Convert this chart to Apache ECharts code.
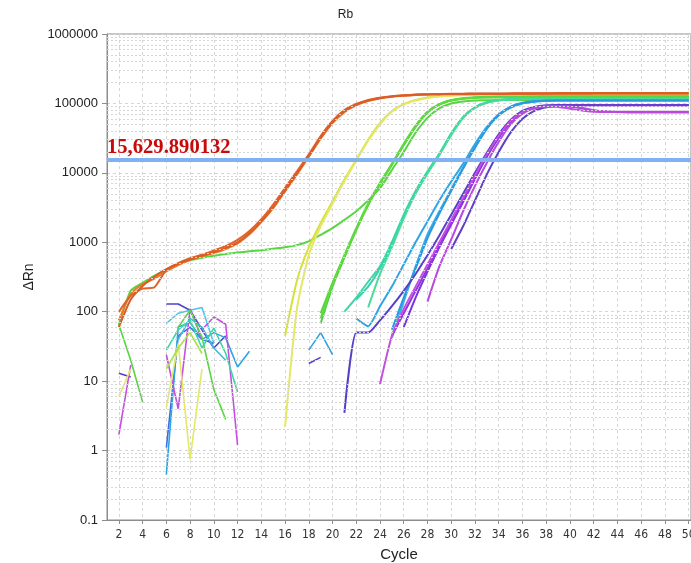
<!DOCTYPE html>
<html>
<head>
<meta charset="utf-8">
<title>Rb amplification plot</title>
<script src="https://cdn.jsdelivr.net/npm/echarts@6/dist/echarts.min.js"></script>
<style>
  html, body { margin: 0; padding: 0; background: #ffffff; }
  #chart { width: 691px; height: 563px; }
</style>
</head>
<body>
<div id="chart"></div>
<script>
// ---- axis ticks ----
const X_TICKS = [2, 4, 6, 8, 10, 12, 14, 16, 18, 20, 22, 24, 26, 28, 30, 32, 34, 36, 38, 40, 42, 44, 46, 48, 50];
const Y_TICKS = [0.1, 1, 10, 100, 1000, 10000, 100000, 1000000];
const Y_MINOR = [2, 3, 4, 5, 6, 7, 8, 9];   // log sub-divisions inside each decade
const THRESHOLD = 15629.890132;

// ---- amplification curves: first cycle, then ΔRn per cycle up to cycle 50 ----
const orange1 = [2, [60, 150, 235, 320, 410, 490, 570, 640, 720,
  830, 1000, 1350, 2000, 3200, 5600, 9800, 17500, 32000, 54000,
  77000, 96000, 110000, 120000, 126000, 130000, 133000, 135000, 136000, 137000,
  137000, 138000, 138000, 138000, 138000, 139000, 139000, 139000, 139000, 139000,
  139000, 140000, 140000, 140000, 140000, 140000, 140000, 140000, 140000, 140000]];
const orange2 = [2, [100, 170, 215, 225, 400, 500, 590, 660, 760,
  880, 1080, 1450, 2150, 3500, 6100, 10500, 18500, 34000, 56000,
  80000, 98000, 112000, 121000, 127000, 131000, 134000, 136000, 137000, 138000,
  138000, 139000, 139000, 139000, 140000, 140000, 140000, 140000, 141000, 141000,
  141000, 141000, 141000, 141000, 141000, 141000, 141000, 141000, 141000, 141000]];
const orange3 = [2, [75, 180, 250, 300, 380, 470, 560, 630, 700,
  800, 960, 1300, 1950, 3100, 5400, 9400, 17000, 31000, 52000,
  75000, 94000, 108000, 118000, 125000, 129000, 132000, 134000, 135000, 136000,
  136000, 136000, 137000, 137000, 137000, 137000, 137000, 138000, 138000, 138000,
  138000, 138000, 138000, 138000, 138000, 138000, 138000, 138000, 138000, 138000]];
const greenSlow = [2, [65, 200, 260, 330, 400, 480, 550, 600, 640,
  680, 710, 740, 770, 810, 850, 910, 1030, 1280, 1600,
  2100, 2800, 4000, 6000, 11000, 20000, 38000, 62000, 85000, 100000,
  107000, 110000, 111000, 112000, 112000, 112000, 113000, 113000, 113000, 113000,
  113000, 113000, 113000, 113000, 113000, 113000, 113000, 113000, 113000, 113000]];
const yellow1 = [16, [45, 280, 850, 1900, 3900,
  8000, 15500, 30000, 52000, 78000, 98000, 112000, 122000, 128000, 131000,
  133000, 134000, 134000, 135000, 135000, 135000, 135000, 135000, 136000, 136000,
  136000, 136000, 136000, 136000, 136000, 136000, 136000, 136000, 136000, 136000]];
const yellow2 = [16, [2.2, 110, 650, 1700, 3600,
  7600, 15000, 29000, 50000, 76000, 96000, 110000, 120000, 126000, 129000,
  131000, 132000, 133000, 133000, 133000, 134000, 134000, 134000, 134000, 134000,
  134000, 134000, 134000, 134000, 134000, 134000, 134000, 134000, 134000, 134000]];
const green1 = [19, [95, 260,
  650, 1600, 3600, 7200, 13500, 26000, 48000, 76000, 98000, 112000,
  119000, 123000, 125000, 126000, 126000, 126000, 126000, 127000, 127000, 127000,
  127000, 127000, 127000, 127000, 127000, 127000, 127000, 127000, 127000, 127000]];
const green2 = [19, [68, 230,
  600, 1500, 3400, 6900, 13000, 25000, 46000, 74000, 96000, 110000,
  117000, 121000, 123000, 124000, 124000, 124000, 125000, 125000, 125000, 125000,
  125000, 125000, 125000, 125000, 125000, 125000, 125000, 125000, 125000, 125000]];
const green3 = [19, [80, 250,
  640, 1550, 3500, 7000, 13300, 26000, 47000, 75000, 97000, 111000,
  118000, 121000, 122000, 122000, 122000, 122000, 122000, 122000, 122000, 122000,
  122000, 122000, 122000, 122000, 122000, 122000, 122000, 122000, 122000, 122000]];
const teal1 = [21, [100, 160, 270, 450, 1000, 2500, 5500, 10500, 19000, 37000,
  64000, 88000, 104000, 112000, 116000, 118000, 119000, 119000, 120000, 120000,
  120000, 120000, 120000, 120000, 120000, 120000, 120000, 120000, 120000, 120000]];
const teal2 = [22, [150, 230, 420, 950, 2400, 5300, 10000, 18500, 36000,
  63000, 87000, 103000, 111000, 115000, 117000, 118000, 118000, 118000, 118000,
  118000, 118000, 118000, 118000, 118000, 118000, 118000, 118000, 118000, 118000]];
const teal3 = [23, [115, 350, 850, 2200, 5000, 9800, 18000, 35000,
  62000, 86000, 102000, 110000, 114000, 116000, 117000, 117000, 117000, 117000,
  117000, 117000, 117000, 117000, 117000, 117000, 117000, 117000, 117000, 117000]];
const blue1 = [22, [80, 62, 120, 230, 480, 1000, 2000, 4000, 7500,
  13500, 26000, 46000, 70000, 90000, 102000, 108000, 110000, 111000, 111000,
  111000, 111000, 111000, 111000, 111000, 111000, 111000, 111000, 111000, 111000]];
const blue2 = [25, [42, 140, 450, 1300, 2800, 5800,
  12000, 24000, 44000, 67000, 87000, 100000, 106000, 109000, 110000, 110000,
  110000, 110000, 110000, 110000, 110000, 110000, 110000, 110000, 110000, 110000]];
const blue3 = [25, [55, 160, 420, 1150, 2600, 5500,
  11500, 23000, 43000, 68000, 88000, 101000, 107000, 109000, 110000, 110000,
  110000, 110000, 110000, 110000, 110000, 110000, 110000, 110000, 110000, 110000]];
const purple1 = [25, [45, 95, 200, 420, 900, 1900,
  4000, 8500, 17500, 33000, 55000, 74000, 86000, 91000, 92000, 90000,
  85000, 79000, 76000, 75000, 75000, 75000, 75000, 75000, 75000, 75000]];
const purple2 = [26, [60, 160, 380, 850, 1800,
  3800, 8200, 17000, 32000, 54000, 73000, 86000, 92000, 93000, 93000,
  93000, 93000, 93000, 93000, 93000, 93000, 93000, 93000, 93000, 93000]];
const magenta1 = [24, [9, 45, 110, 230, 480, 1000, 2100,
  4400, 9200, 18500, 34000, 56000, 75000, 86000, 90000, 89000, 84000,
  79000, 76000, 75000, 75000, 74000, 74000, 74000, 74000, 74000, 74000]];
const magenta2 = [28, [140, 450, 1100,
  2800, 6500, 14000, 28000, 50000, 71000, 85000, 91000, 92000, 90000,
  86000, 80000, 77000, 76000, 76000, 76000, 76000, 76000, 76000, 76000]];
const indigo1 = [21, [3.5, 50, 50, 75, 120, 200, 350, 650, 1250, 2500,
  5000, 10000, 19500, 36000, 58000, 78000, 89000, 94000, 95000, 95000,
  95000, 95000, 95000, 95000, 95000, 95000, 95000, 95000, 95000, 95000]];
const indigo2 = [30, [800,
  1700, 4000, 9500, 20000, 38000, 60000, 78000, 88000, 92000, 94000,
  95000, 95000, 95000, 95000, 95000, 95000, 95000, 95000, 95000, 95000]];

// ---- short baseline fragments (wells with no amplification) ----
const fragGreen2 = [2, [65, 20, 5]];
const fragIndigo2 = [2, [13, 11.5]];
const fragMagenta2 = [2, [1.7, 17]];
const fragYellow2 = [2, [6, 15]];
const fragIndigo6 = [6, [129, 129, 105, 55, 30, 45]];
const fragBlue6 = [6, [1.1, 45, 60, 40, 35]];
const fragCyan6 = [6, [0.45, 60, 70, 40, 50, 42, 16, 27]];
const fragSky6 = [6, [68, 95, 105, 115, 35]];
const fragMagenta6 = [6, [24, 4, 110, 40]];
const fragMagenta9 = [9, [55, 84, 66, 1.2]];
const fragYellow6 = [6, [4.2, 35, 0.75, 15]];
const fragGreen7 = [7, [60, 105, 43, 7.6, 2.8]];
const fragTeal6 = [6, [28, 55, 75, 30, 58, 25, 7]];
const fragLime6 = [6, [15, 30, 50, 25]];
const fragCyan7 = [7, [40, 80, 60, 30, 20]];
const fragCyan18 = [18, [28, 50, 24]];
const fragIndigo18 = [18, [18, 22]];

// ---- colours ----
const C = {
  orange: '#e0622a', orange2: '#e87a28', green: '#58d444', yellow: '#d6e03c', yellow2: '#e4e864',
  teal: '#3ed6a4', blue: '#2fa4e2', sky: '#56c2e6', purple: '#9234e2', magenta: '#c44ee2',
  indigo: '#5540c8', lime: '#a8e048', blueDeep: '#3a6ee0'
};

const curves = [
  [greenSlow, C.green], [yellow1, C.yellow], [yellow2, C.yellow2],
  [green1, C.green], [green2, '#4cd04c'], [green3, '#62da3c'],
  [teal1, C.teal], [teal2, '#34d2b0'], [teal3, '#48dc98'],
  [blue1, C.blue], [blue2, '#3aaee6'], [blue3, '#2a9ade'],
  [indigo1, C.indigo], [indigo2, '#6040c4'], [purple2, '#7a34dc'],
  [purple1, C.purple], [magenta1, C.magenta], [magenta2, '#b848e0'],
  [orange3, C.orange2], [orange2, C.orange], [orange1, '#dc5c28']
];
const fragments = [
  [fragGreen2, C.green], [fragIndigo2, C.indigo], [fragMagenta2, C.magenta], [fragYellow2, C.yellow2],
  [fragIndigo6, C.indigo], [fragBlue6, C.blueDeep], [fragCyan6, C.blue], [fragSky6, C.sky],
  [fragMagenta6, C.magenta], [fragMagenta9, C.magenta], [fragYellow6, C.yellow2], [fragGreen7, C.green],
  [fragTeal6, C.teal], [fragLime6, C.lime], [fragCyan7, '#3cbcd8'], [fragCyan18, C.blue], [fragIndigo18, C.indigo]
];

function toPoints(curve) {
  const start = curve[0];
  return curve[1].map((v, i) => [start + i, v]);
}

const gridColor = '#d6d6d6';
const series = [];

// dotted minor grid lines inside each decade (drawn under the curves)
const minorLines = [];
Y_TICKS.slice(0, -1).forEach(d => Y_MINOR.forEach(m => minorLines.push({ yAxis: +(d * m).toPrecision(6) })));
series.push({
  type: 'line', data: [], silent: true, z: 1,
  markLine: {
    silent: true, symbol: 'none', animation: false,
    label: { show: false },
    lineStyle: { color: gridColor, type: [2, 2], width: 1 },
    data: minorLines
  }
});

fragments.forEach(([f, color]) => series.push({
  type: 'line', data: toPoints(f), symbol: 'none', smooth: false, z: 3,
  lineStyle: { color, width: 1.6 }, animation: false
}));
curves.forEach(([c, color]) => series.push({
  type: 'line', data: toPoints(c), symbol: 'none', smooth: 0.2, z: 4,
  lineStyle: { color, width: 2 }, animation: false
}));

// threshold line with its value written at the left end
series.push({
  type: 'line', data: [], z: 6,
  markLine: {
    silent: true, symbol: 'none', animation: false,
    lineStyle: { color: '#7fb2ee', width: 4, type: 'solid' },
    label: {
      show: true, position: 'insideStartTop', distance: [0, 1],
      formatter: () => THRESHOLD.toLocaleString('en-US', { maximumFractionDigits: 6 }),
      fontFamily: '"Liberation Serif", "Times New Roman", serif',
      fontWeight: 'bold', fontSize: 20.6, color: '#c80a0a'
    },
    data: [{ yAxis: THRESHOLD }]
  }
});

const chart = echarts.init(document.getElementById('chart'), null, { renderer: 'canvas' });
chart.setOption({
  backgroundColor: '#ffffff',
  animation: false,
  title: {
    text: 'Rb', left: 'center', top: 4,
    textStyle: { fontSize: 12, fontWeight: 'normal', color: '#222', fontFamily: 'Arial, "Liberation Sans", sans-serif' }
  },
  grid: {
    left: 107, top: 34, right: 0, bottom: 43, show: true, borderColor: '#8c8c8c', borderWidth: 1,
    backgroundColor: 'transparent', containLabel: false, outerBoundsMode: 'none'
  },
  xAxis: {
    type: 'value', min: 1, max: 50.2,
    name: 'Cycle', nameLocation: 'middle', nameGap: 27,
    nameTextStyle: { fontSize: 15, color: '#222', fontFamily: 'Arial, "Liberation Sans", sans-serif' },
    axisLine: { show: true, lineStyle: { color: '#8c8c8c' } },
    axisTick: { show: true, customValues: X_TICKS, length: 4, lineStyle: { color: '#8c8c8c' } },
    axisLabel: {
      customValues: X_TICKS, margin: 9, fontSize: 12, color: '#333',
      fontFamily: '"Liberation Sans Narrow", "Arial Narrow", "DejaVu Sans Condensed", sans-serif'
    },
    splitLine: { show: true, lineStyle: { color: gridColor, type: [3, 3] } }
  },
  yAxis: {
    type: 'log', logBase: 10, min: 0.1, max: 1000000, interval: 1,
    name: 'ΔRn', nameLocation: 'middle', nameGap: 70, nameRotate: 90,
    nameTextStyle: { fontSize: 14, color: '#222', fontFamily: 'Arial, "Liberation Sans", sans-serif' },
    axisLine: { show: true, lineStyle: { color: '#8c8c8c' } },
    axisTick: { show: true, length: 5, lineStyle: { color: '#8c8c8c' } },
    axisLabel: {
      margin: 9, fontSize: 13, color: '#222', fontFamily: 'Arial, "Liberation Sans", sans-serif',
      formatter: v => String(+Number(v).toPrecision(6))
    },
    splitLine: { show: true, lineStyle: { color: gridColor, type: [3, 3] } }
  },
  series
});
</script>
</body>
</html>
